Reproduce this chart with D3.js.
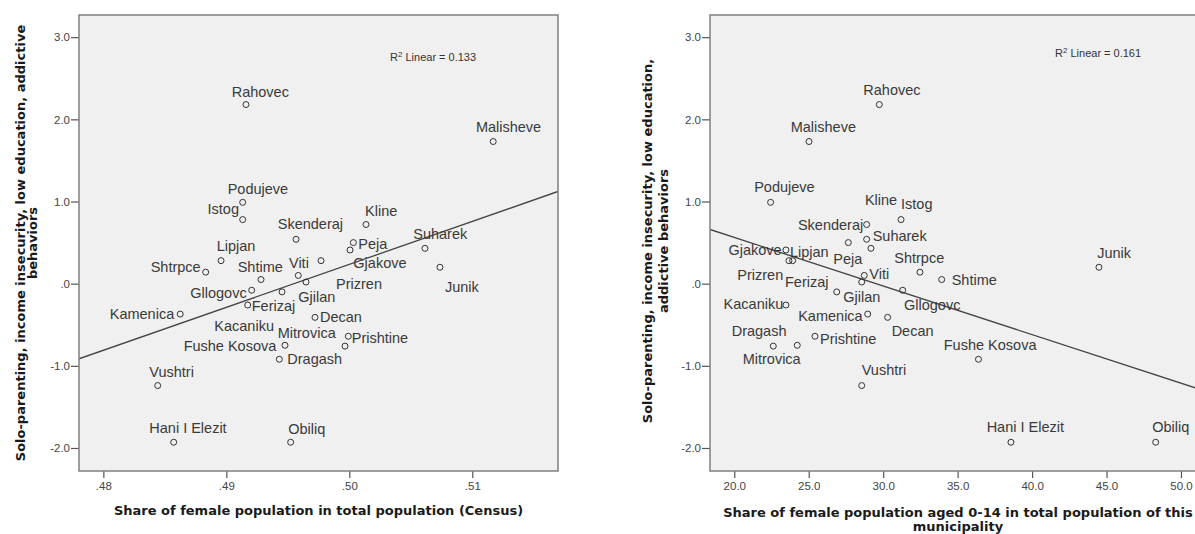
<!DOCTYPE html>
<html>
<head>
<meta charset="utf-8">
<script src="https://cdn.jsdelivr.net/npm/d3@7"></script>
<style>
  html, body { margin: 0; padding: 0; background: #ffffff; }
  svg { display: block; }
</style>
</head>
<body>
<svg id="chart" width="1195" height="534"></svg>
<script>
// ---------------- DATA ----------------
const municipalities = ["Rahovec","Malisheve","Podujeve","Istog","Kline","Skenderaj","Peja","Suharek","Gjakove","Lipjan","Prizren","Junik","Shtrpce","Viti","Shtime","Gjilan","Gllogovc","Ferizaj","Kacaniku","Kamenica","Decan","Prishtine","Dragash","Mitrovica","Fushe Kosova","Vushtri","Hani I Elezit","Obiliq"];
// Solo-parenting, income insecurity, low education, addictive behaviors (factor score)
const soloScore = [2.18,1.73,0.99,0.78,0.72,0.54,0.50,0.43,0.41,0.28,0.28,0.20,0.14,0.10,0.05,0.02,-0.08,-0.10,-0.26,-0.37,-0.41,-0.64,-0.76,-0.75,-0.92,-1.24,-1.93,-1.93];
// Share of female population in total population (Census)
const femaleShare = [.49160,.51170,.49133,.49133,.50136,.49567,.50033,.50615,.50006,.48957,.49770,.50737,.48832,.49585,.49282,.49648,.49206,.49453,.49174,.48625,.49721,.49992,.49965,.49477,.49431,.48442,.48572,.49523];
// Share of female population aged 0-14 in total population of this municipality
const femaleYoungShare = [29.74,25.02,22.44,31.20,28.89,28.89,27.66,29.18,23.47,23.92,23.67,44.49,32.47,28.73,33.93,28.56,31.31,26.88,23.47,28.96,30.30,25.42,22.62,24.23,36.40,28.56,38.58,48.30];

const yTicks = [-2, -1, 0, 1, 2, 3];
const xTicksLeft = [.48, .49, .50, .51];
const xTicksRight = [20, 25, 30, 35, 40, 45, 50];
const r2Left = "0.133";
const r2Right = "0.161";

const yTitleLeft = ["Solo-parenting, income insecurity, low education, addictive", "behaviors"];
const yTitleRight = ["Solo-parenting, income insecurity, low education,", "addictive behaviors"];
const xTitleLeft = ["Share of female population in total population (Census)"];
const xTitleRight = ["Share of female population aged 0-14 in total population of this", "municipality"];

// ---------------- LABEL PLACEMENT (layout only) ----------------
const labelLeft = {
  "Rahovec":[-14.3,-7.6], "Malisheve":[-17.3,-10], "Podujeve":[-15,-8.5], "Istog":[-3.7,-6,"end"],
  "Kline":[-1,-8.6], "Skenderaj":[-18.3,-10.7], "Peja":[5,6.7], "Suharek":[-11.7,-9],
  "Gjakove":[3.3,18.3], "Lipjan":[-4.3,-9.7], "Prizren":[15,28], "Junik":[5,24.3],
  "Shtrpce":[-5,0,"end"], "Viti":[-9.3,-7.7], "Shtime":[-23.3,-7.6], "Gjilan":[-7.7,20],
  "Gllogovc":[-5,7.4,"end"], "Ferizaj":[-30.3,19], "Kacaniku":[-33.4,26.4], "Kamenica":[-6,5.3,"end"],
  "Decan":[5,4.7], "Prishtine":[3.4,6.3], "Dragash":[-57.7,18.3], "Mitrovica":[-7.3,-7.7],
  "Fushe Kosova":[-3,-8.3,"end"], "Vushtri":[-8.4,-9], "Hani I Elezit":[-24.4,-9], "Obiliq":[-2.4,-8.4]
};
const labelRight = {
  "Rahovec":[-16,-10], "Malisheve":[-18.3,-10], "Podujeve":[-16.4,-10], "Istog":[0,-11],
  "Kline":[-1.7,-20], "Skenderaj":[-3.4,-9.3,"end"], "Peja":[-15,21.7], "Suharek":[1.7,-7.3],
  "Gjakove":[-4.3,5.3,"end"], "Lipjan":[-2.7,-3.6], "Prizren":[-5.7,19,"end"], "Junik":[-1.7,-9],
  "Shtrpce":[-25.7,-9.6], "Viti":[5,3.3], "Shtime":[10,5], "Gjilan":[-18.4,20.4],
  "Gllogovc":[1.3,19.7], "Ferizaj":[-51.7,-5], "Kacaniku":[-2.7,4.3,"end"], "Kamenica":[-5,6.7,"end"],
  "Decan":[4,19], "Prishtine":[5,7.3], "Dragash":[-41.6,-9.7], "Mitrovica":[-54.6,19],
  "Fushe Kosova":[-34.7,-9.3], "Vushtri":[0,-10.7], "Hani I Elezit":[-24.3,-10], "Obiliq":[-3.4,-10]
};

// ---------------- DRAW ----------------
const svg = d3.select("#chart");
const LABEL_FONT = "'Liberation Sans', Arial, sans-serif";
const TITLE_FONT = "'DejaVu Sans', Verdana, sans-serif";

function drawPanel(cfg) {
  const g = svg.append("g");
  const x = d3.scaleLinear().domain(cfg.xDomain).range([cfg.left, cfg.right]);
  const y = d3.scaleLinear().domain(cfg.yDomain).range([cfg.bottom, cfg.top]);

  const clipId = "clip" + cfg.id;
  svg.append("clipPath").attr("id", clipId).append("rect")
    .attr("x", cfg.left).attr("y", cfg.top)
    .attr("width", cfg.right - cfg.left).attr("height", cfg.bottom - cfg.top);

  // plot background
  g.append("rect")
    .attr("x", cfg.left).attr("y", cfg.top)
    .attr("width", cfg.right - cfg.left).attr("height", cfg.bottom - cfg.top)
    .attr("fill", "#f0f0f0");

  // axes
  const yAxis = d3.axisLeft(y).tickValues(yTicks).tickSizeInner(8).tickSizeOuter(0).tickPadding(1)
    .tickFormat(d => d === 0 ? ".0" : d3.format(".1f")(d).replace("\u2212", "-"));
  const xAxis = d3.axisBottom(x).tickValues(cfg.xTicks).tickSizeInner(7).tickSizeOuter(0).tickPadding(4)
    .tickFormat(cfg.xFormat);

  const ya = g.append("g").attr("transform", `translate(${cfg.left},0)`).call(yAxis);
  const xa = g.append("g").attr("transform", `translate(0,${cfg.bottom})`).call(xAxis);
  [ya, xa].forEach(a => {
    a.select(".domain").remove();
    a.selectAll(".tick line").attr("stroke", "#555").attr("stroke-width", 1.2);
    a.selectAll(".tick text").attr("fill", "#444").style("font-family", LABEL_FONT).style("font-size", "11.5px");
  });

  // regression line (OLS from data)
  const mx = d3.mean(cfg.xs), my = d3.mean(soloScore);
  let sxy = 0, sxx = 0;
  cfg.xs.forEach((v, i) => { sxy += (v - mx) * (soloScore[i] - my); sxx += (v - mx) * (v - mx); });
  const b = sxy / sxx, a0 = my - b * mx;
  const xd = x.domain();
  g.append("line")
    .attr("clip-path", `url(#${clipId})`)
    .attr("x1", x(xd[0])).attr("y1", y(a0 + b * xd[0]))
    .attr("x2", x(xd[1])).attr("y2", y(a0 + b * xd[1]))
    .attr("stroke", "#444").attr("stroke-width", 1.3);

  // points
  const pts = municipalities.map((m, i) => ({ name: m, xv: cfg.xs[i], yv: soloScore[i] }));
  g.selectAll("circle.pt").data(pts).join("circle")
    .attr("class", "pt")
    .attr("cx", d => x(d.xv)).attr("cy", d => y(d.yv)).attr("r", 3)
    .attr("fill", "none").attr("stroke", "#333").attr("stroke-width", 1);

  // point labels
  g.selectAll("text.lbl").data(pts).join("text")
    .attr("class", "lbl")
    .attr("x", d => x(d.xv) + cfg.labels[d.name][0])
    .attr("y", d => y(d.yv) + cfg.labels[d.name][1])
    .attr("text-anchor", d => cfg.labels[d.name][2] || "start")
    .attr("fill", "#3a3a3a")
    .style("font-family", LABEL_FONT).style("font-size", "14.5px")
    .text(d => d.name);

  // R2 annotation
  const r2 = g.append("text")
    .attr("x", cfg.r2x).attr("y", cfg.r2y)
    .attr("fill", "#333")
    .style("font-family", LABEL_FONT).style("font-size", "11px");
  r2.append("tspan").text("R");
  r2.append("tspan").attr("dy", -4).style("font-size", "8px").text("2");
  r2.append("tspan").attr("dy", 4).text(" Linear = " + cfg.r2);

  // frame
  g.append("rect")
    .attr("x", cfg.left).attr("y", cfg.top)
    .attr("width", cfg.right - cfg.left).attr("height", cfg.bottom - cfg.top)
    .attr("fill", "none").attr("stroke", "#808080").attr("stroke-width", 1.5);

  // x title
  const cx = (cfg.left + cfg.right) / 2;
  cfg.xTitle.forEach((t, i) => {
    g.append("text").attr("x", cx).attr("y", cfg.xTitleY + i * 13.5)
      .attr("text-anchor", "middle").attr("fill", "#1a1a1a")
      .style("font-family", TITLE_FONT).style("font-weight", "bold").style("font-size", "13px")
      .text(t);
  });
  // y title
  const cy = cfg.yTitleCenter;
  cfg.yTitle.forEach((t, i) => {
    g.append("text")
      .attr("transform", `translate(${cfg.yTitleX[i]},${cy}) rotate(-90)`)
      .attr("text-anchor", "middle").attr("fill", "#1a1a1a")
      .style("font-family", TITLE_FONT).style("font-weight", "bold").style("font-size", "13px")
      .text(t);
  });
}

drawPanel({
  id: "L", left: 79, right: 558, top: 15, bottom: 471,
  xDomain: [.47802, .51697], yDomain: [-2.28, 3.27],
  xs: femaleShare, xTicks: xTicksLeft,
  xFormat: d => d3.format(".2f")(d).replace(/^0/, ""),
  labels: labelLeft, r2: r2Left, r2x: 390, r2y: 61,
  xTitle: xTitleLeft, xTitleY: 515,
  yTitle: yTitleLeft, yTitleX: [25, 37], yTitleCenter: 243
});

drawPanel({
  id: "R", left: 710, right: 1206, top: 15, bottom: 471,
  xDomain: [18.37, 51.68], yDomain: [-2.28, 3.27],
  xs: femaleYoungShare, xTicks: xTicksRight,
  xFormat: d3.format(".1f"),
  labels: labelRight, r2: r2Right, r2x: 1055, r2y: 57,
  xTitle: xTitleRight, xTitleY: 517,
  yTitle: yTitleRight, yTitleX: [652, 668], yTitleCenter: 241
});
</script>
</body>
</html>
